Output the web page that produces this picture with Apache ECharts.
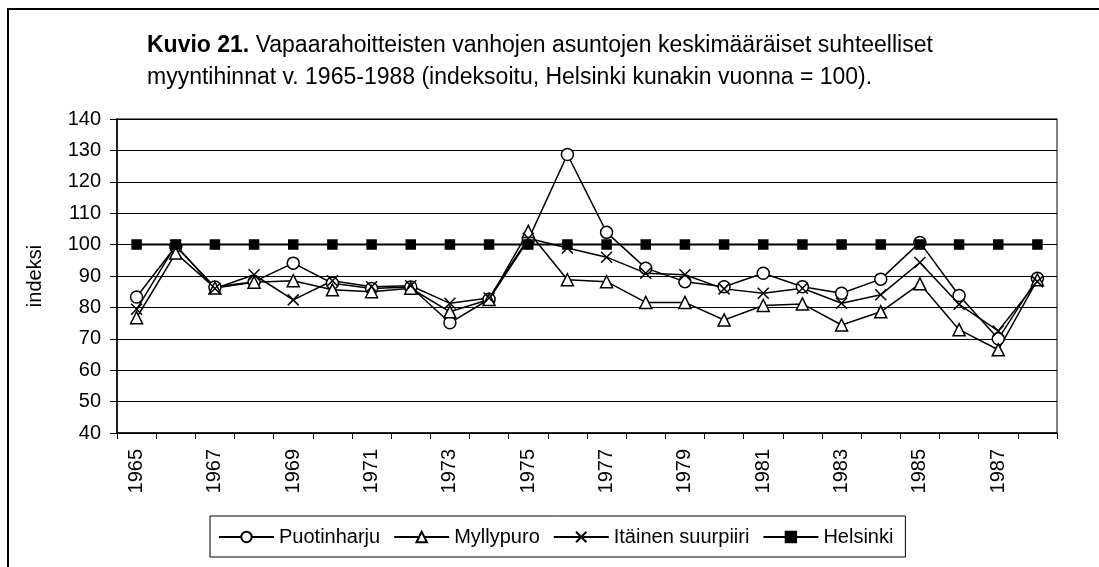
<!DOCTYPE html>
<html>
<head>
<meta charset="utf-8">
<script src="https://cdn.jsdelivr.net/npm/echarts@6/dist/echarts.min.js"></script>
<style>
  html, body { margin: 0; padding: 0; background: #fff; }
  #chart { width: 1099px; height: 567px; }
</style>
</head>
<body>
<div id="chart"></div>
<script>
// data
const years = ['1965','1966','1967','1968','1969','1970','1971','1972','1973','1974','1975','1976',
               '1977','1978','1979','1980','1981','1982','1983','1984','1985','1986','1987','1988'];
const puotinharju = [83.3, 99.5, 86.5, 88.2, 94.1, 87.7, 86.0, 86.5, 75.1, 82.6, 101.5, 128.7,
                     103.9, 92.5, 88.2, 86.6, 90.9, 86.6, 84.5, 89.0, 100.7, 83.8, 70.0, 89.3];
const myllypuro = [76.7, 97.3, 86.2, 88.0, 88.5, 85.6, 85.0, 86.1, 78.6, 82.5, 104.2, 88.8,
                   88.2, 81.6, 81.6, 76.0, 80.6, 81.1, 74.4, 78.6, 87.5, 72.9, 66.5, 88.8];
const itainen = [79.4, 99.8, 86.0, 90.4, 82.4, 88.5, 86.6, 86.9, 81.3, 83.0, 102.0, 98.9,
                 96.0, 90.9, 90.4, 85.9, 84.5, 86.1, 81.3, 84.0, 94.3, 81.0, 72.5, 88.2];
const helsinki = [100, 100, 100, 100, 100, 100, 100, 100, 100, 100, 100, 100,
                  100, 100, 100, 100, 100, 100, 100, 100, 100, 100, 100, 100];
const yTicks = { min: 40, max: 140, step: 10 };

const font = 'Liberation Sans, Arial, sans-serif';
const crossPath = 'path://M0,0L10,10M10,0L0,10';

const chart = echarts.init(document.getElementById('chart'));

function lineSeries(name, data, symbol, size, fill, width) {
    return {
        name: name,
        type: 'line',
        data: data,
        symbol: symbol,
        symbolSize: size,
        showAllSymbol: true,
        animation: false,
        lineStyle: { color: '#000', width: width },
        itemStyle: { color: fill, borderColor: '#000', borderWidth: 1.5 }
    };
}

chart.setOption({
    backgroundColor: '#fff',
    animation: false,
    title: {
        left: 142,
        top: 25,
        text: '{b|Kuvio 21.}{n| Vapaarahoitteisten vanhojen asuntojen keskimääräiset suhteelliset}\n{n|myyntihinnat v. 1965-1988 (indeksoitu, Helsinki kunakin vuonna = 100).}',
        textStyle: {
            fontWeight: 'normal',
            rich: {
                b: { fontFamily: font, fontSize: 23, fontWeight: 'bold', color: '#000', lineHeight: 32 },
                n: { fontFamily: font, fontSize: 23, fontWeight: 'normal', color: '#000', lineHeight: 32 }
            }
        }
    },
    graphic: [{
        type: 'rect',
        shape: { x: 8, y: 9, width: 1300, height: 700 },
        style: { fill: 'none', stroke: '#000', lineWidth: 2 },
        silent: true
    }],
    grid: {
        left: 117,
        right: 42,
        top: 119,
        bottom: 134,
        show: true,
        borderColor: '#808080',
        borderWidth: 2,
        backgroundColor: 'transparent'
    },
    legend: {
        left: 210,
        top: 516,
        orient: 'horizontal',
        itemWidth: 55,
        itemHeight: 13,
        itemGap: 13,
        padding: [11, 12, 10, 8],
        borderColor: '#000',
        borderWidth: 1,
        textStyle: { fontFamily: font, fontSize: 20, color: '#000' },
        data: ['Puotinharju', 'Myllypuro', 'Itäinen suurpiiri', 'Helsinki']
    },
    xAxis: {
        type: 'category',
        data: years,
        boundaryGap: true,
        axisLine: { lineStyle: { color: '#000', width: 1.5 } },
        axisTick: { show: true, interval: 0, length: 6, lineStyle: { color: '#000', width: 1 } },
        axisLabel: {
            interval: 1,
            rotate: 90,
            margin: 16,
            fontFamily: font,
            fontSize: 20,
            color: '#000'
        },
        splitLine: { show: false }
    },
    yAxis: {
        type: 'value',
        min: yTicks.min,
        max: yTicks.max,
        interval: yTicks.step,
        name: 'indeksi',
        nameLocation: 'middle',
        nameRotate: 90,
        nameGap: 72,
        nameTextStyle: { fontFamily: font, fontSize: 20, color: '#000' },
        axisLine: { show: true, lineStyle: { color: '#000', width: 1.5 } },
        axisTick: { show: true, length: 7, lineStyle: { color: '#000', width: 1 } },
        axisLabel: { margin: 16, fontFamily: font, fontSize: 20, color: '#000' },
        splitLine: { show: true, lineStyle: { color: '#000', width: 1 } }
    },
    series: [
        lineSeries('Puotinharju', puotinharju, 'circle', 12, '#fff', 1.5),
        lineSeries('Myllypuro', myllypuro, 'triangle', 12, '#fff', 1.5),
        lineSeries('Itäinen suurpiiri', itainen, crossPath, 11, '#000', 1.5),
        lineSeries('Helsinki', helsinki, 'rect', 9, '#000', 2)
    ]
});
</script>
</body>
</html>
